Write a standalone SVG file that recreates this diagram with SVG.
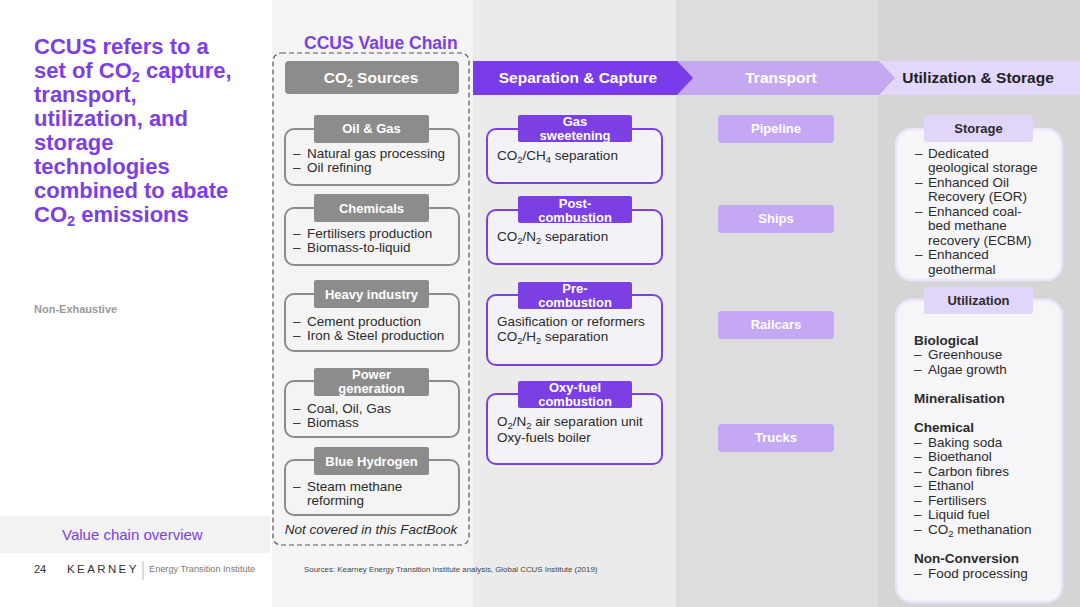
<svg xmlns="http://www.w3.org/2000/svg" width="1080" height="607" viewBox="0 0 1080 607">
<style>
text{font-family:"Liberation Sans",Arial,Helvetica,sans-serif}
.title{font-size:22px;font-weight:bold;fill:#7b3fe4}
.hdr{font-size:15.5px;font-weight:bold;fill:#fff;text-anchor:middle}
.srcbox{fill:#f4f4f4;stroke:#8c8c8c;stroke-width:2}
.srctab{fill:#8c8c8c}
.tabt{font-size:13px;font-weight:bold;fill:#fff;text-anchor:middle}
.body{font-size:13.5px;fill:#2b2b2b}
.sepbox{fill:#f3f2f6;stroke:#7b3fe4;stroke-width:2}
.septab{fill:#7b3fe4}
.pill{fill:#c5a8f3}
.pillt{font-size:13px;font-weight:bold;fill:#fff;text-anchor:middle}
.usbox{fill:#f6f5f8;stroke:#ebe4fb;stroke-width:2.5}
.ustab{fill:#e2d5fa}
.ustabt{font-size:13px;font-weight:bold;fill:#2b2b2b;text-anchor:middle}
.b{font-weight:bold}
.sub{font-size:9.5px;baseline-shift:-2.5px}
.tsub{font-size:14.5px;baseline-shift:-3.5px}
</style>
<!-- backgrounds -->
<rect x="0" y="0" width="1080" height="607" fill="#ffffff"/>
<rect x="272" y="0" width="201" height="607" fill="#f4f4f4"/>
<rect x="473" y="0" width="203" height="607" fill="#ebebeb"/>
<rect x="676" y="0" width="202" height="607" fill="#dddddd"/>
<rect x="878" y="0" width="202" height="607" fill="#d5d5d5"/>
<rect x="0" y="516" width="270" height="37" fill="#f2f2f2"/>

<g id="left-panel">
<text class="title" x="34" y="54">CCUS refers to a</text>
<text class="title" x="34" y="78">set of CO<tspan class="tsub">2</tspan> capture,</text>
<text class="title" x="34" y="102">transport,</text>
<text class="title" x="34" y="126">utilization, and</text>
<text class="title" x="34" y="150">storage</text>
<text class="title" x="34" y="174">technologies</text>
<text class="title" x="34" y="198">combined to abate</text>
<text class="title" x="34" y="222">CO<tspan class="tsub">2</tspan> emissions</text>
<text x="34" y="313" font-size="11" font-weight="bold" fill="#9a9a9a">Non-Exhaustive</text>
<text x="62" y="540" font-size="15" fill="#7b3fe4">Value chain overview</text>
</g>

<g id="footer">
<text x="34" y="573" font-size="11" fill="#333">24</text>
<text x="67" y="573" font-size="11.5" fill="#333" letter-spacing="2.4">KEARNEY</text>
<line x1="143" y1="561" x2="143" y2="580" stroke="#bbbbbb" stroke-width="1"/>
<text x="149" y="572" font-size="9.2" fill="#777">Energy Transition Institute</text>
<text x="304" y="572" font-size="7.9" fill="#444">Sources: Kearney Energy Transition Institute analysis, Global CCUS Institute (2019)</text>
</g>

<g id="value-chain-frame">
<text x="304" y="49" font-size="17.5" font-weight="bold" fill="#7b3fe4">CCUS Value Chain</text>
<rect x="273" y="53" width="196" height="492" rx="8" fill="none" stroke="#555" stroke-width="1.2" stroke-dasharray="5,3"/>
<text x="371" y="534" font-size="13.5" font-style="italic" fill="#2b2b2b" text-anchor="middle">Not covered in this FactBook</text>
</g>

<g id="header-utilization">
<polygon points="878,61 1080,61 1080,95 878,95 894,78" fill="#e3d7fb"/>
<text x="978" y="83" font-size="15.5" font-weight="bold" fill="#222" text-anchor="middle">Utilization &amp; Storage</text>
</g>
<g id="header-transport">
<polygon points="676,61 879,61 895,78 879,95 676,95 692,78" fill="#c4a9f2"/>
<text class="hdr" x="781" y="83">Transport</text>
</g>
<g id="header-separation">
<polygon points="473,61 677,61 693,78 677,95 473,95" fill="#7a3ce8"/>
<text class="hdr" x="578" y="83">Separation &amp; Capture</text>
</g>
<g id="header-sources">
<rect x="285" y="61" width="174" height="33" rx="4" fill="#8c8c8c"/>
<text class="hdr" x="371" y="83">CO<tspan font-size="10.5" baseline-shift="-4">2</tspan>  Sources</text>
</g>

<g id="connectors"></g>

<!-- CO2 sources -->
<g id="src-oil-gas">
<rect class="srcbox" x="285" y="129" width="174" height="56" rx="9"/>
<rect class="srctab" x="314" y="115" width="115" height="28" rx="2"/>
<text class="tabt" x="371.5" y="133">Oil &amp; Gas</text>
<text class="body" x="293" y="158">–</text><text class="body" x="307" y="158">Natural gas processing</text>
<text class="body" x="293" y="172">–</text><text class="body" x="307" y="172">Oil refining</text>
</g>
<g id="src-chemicals">
<rect class="srcbox" x="285" y="208" width="174" height="57" rx="9"/>
<rect class="srctab" x="314" y="194" width="115" height="28" rx="2"/>
<text class="tabt" x="371.5" y="213">Chemicals</text>
<text class="body" x="293" y="238">–</text><text class="body" x="307" y="238">Fertilisers production</text>
<text class="body" x="293" y="252">–</text><text class="body" x="307" y="252">Biomass-to-liquid</text>
</g>
<g id="src-heavy-industry">
<rect class="srcbox" x="285" y="294" width="174" height="57" rx="9"/>
<rect class="srctab" x="314" y="280" width="115" height="28" rx="2"/>
<text class="tabt" x="371.5" y="299">Heavy industry</text>
<text class="body" x="293" y="326">–</text><text class="body" x="307" y="326">Cement production</text>
<text class="body" x="293" y="340">–</text><text class="body" x="307" y="340">Iron &amp; Steel production</text>
</g>
<g id="src-power">
<rect class="srcbox" x="285" y="381" width="174" height="56" rx="9"/>
<rect class="srctab" x="314" y="368" width="115" height="28" rx="2"/>
<text class="tabt" x="371.5" y="379">Power</text>
<text class="tabt" x="371.5" y="393">generation</text>
<text class="body" x="293" y="413">–</text><text class="body" x="307" y="413">Coal, Oil, Gas</text>
<text class="body" x="293" y="427">–</text><text class="body" x="307" y="427">Biomass</text>
</g>
<g id="src-blue-hydrogen">
<rect class="srcbox" x="285" y="460" width="174" height="55" rx="9"/>
<rect class="srctab" x="314" y="447" width="115" height="28" rx="2"/>
<text class="tabt" x="371.5" y="466">Blue Hydrogen</text>
<text class="body" x="293" y="491">–</text><text class="body" x="307" y="491">Steam methane</text>
<text class="body" x="307" y="505">reforming</text>
</g>

<!-- Separation & capture -->
<g id="sep-gas-sweetening">
<rect class="sepbox" x="487" y="129" width="175" height="54" rx="9"/>
<rect class="septab" x="518" y="115" width="114" height="27" rx="2"/>
<text class="tabt" x="575" y="126">Gas</text>
<text class="tabt" x="575" y="140">sweetening</text>
<text class="body" x="497" y="160">CO<tspan class="sub">2</tspan>/CH<tspan class="sub">4</tspan> separation</text>
</g>
<g id="sep-post-combustion">
<rect class="sepbox" x="487" y="210" width="175" height="54" rx="9"/>
<rect class="septab" x="518" y="196" width="114" height="27" rx="2"/>
<text class="tabt" x="575" y="208">Post-</text>
<text class="tabt" x="575" y="222">combustion</text>
<text class="body" x="497" y="241">CO<tspan class="sub">2</tspan>/N<tspan class="sub">2</tspan> separation</text>
</g>
<g id="sep-pre-combustion">
<rect class="sepbox" x="487" y="295" width="175" height="70" rx="9"/>
<rect class="septab" x="518" y="282" width="114" height="27" rx="2"/>
<text class="tabt" x="575" y="293">Pre-</text>
<text class="tabt" x="575" y="307">combustion</text>
<text class="body" x="497" y="326">Gasification or reformers</text>
<text class="body" x="497" y="341">CO<tspan class="sub">2</tspan>/H<tspan class="sub">2</tspan> separation</text>
</g>
<g id="sep-oxy-fuel">
<rect class="sepbox" x="487" y="394" width="175" height="70" rx="9"/>
<rect class="septab" x="518" y="381" width="114" height="27" rx="2"/>
<text class="tabt" x="575" y="392">Oxy-fuel</text>
<text class="tabt" x="575" y="406">combustion</text>
<text class="body" x="497" y="426">O<tspan class="sub">2</tspan>/N<tspan class="sub">2</tspan> air separation unit</text>
<text class="body" x="497" y="442">Oxy-fuels boiler</text>
</g>

<!-- Transport -->
<g id="tr-pipeline">
<rect class="pill" x="718" y="115" width="116" height="28" rx="4"/>
<text class="pillt" x="776" y="133">Pipeline</text>
</g>
<g id="tr-ships">
<rect class="pill" x="718" y="205" width="116" height="28" rx="4"/>
<text class="pillt" x="776" y="223">Ships</text>
</g>
<g id="tr-railcars">
<rect class="pill" x="718" y="311" width="116" height="28" rx="4"/>
<text class="pillt" x="776" y="329">Railcars</text>
</g>
<g id="tr-trucks">
<rect class="pill" x="718" y="424" width="116" height="28" rx="4"/>
<text class="pillt" x="776" y="442">Trucks</text>
</g>

<!-- Utilization & Storage -->
<g id="us-storage">
<rect class="usbox" x="896" y="129" width="166" height="151" rx="16"/>
<rect class="ustab" x="924" y="115" width="109" height="27" rx="2"/>
<text class="ustabt" x="978.5" y="133">Storage</text>
<text class="body" x="915" y="158">–</text><text class="body" x="928" y="158">Dedicated</text>
<text class="body" x="928" y="172">geological storage</text>
<text class="body" x="915" y="187">–</text><text class="body" x="928" y="187">Enhanced Oil</text>
<text class="body" x="928" y="201">Recovery (EOR)</text>
<text class="body" x="915" y="216">–</text><text class="body" x="928" y="216">Enhanced coal-</text>
<text class="body" x="928" y="230">bed methane</text>
<text class="body" x="928" y="245">recovery (ECBM)</text>
<text class="body" x="915" y="259">–</text><text class="body" x="928" y="259">Enhanced</text>
<text class="body" x="928" y="274">geothermal</text>
</g>
<g id="us-utilization">
<rect class="usbox" x="896" y="300" width="166" height="302" rx="16"/>
<rect class="ustab" x="924" y="287" width="109" height="27" rx="2"/>
<text class="ustabt" x="978.5" y="305">Utilization</text>
<text class="body b" x="914" y="345">Biological</text>
<text class="body" x="914" y="359">–</text><text class="body" x="928" y="359">Greenhouse</text>
<text class="body" x="914" y="374">–</text><text class="body" x="928" y="374">Algae growth</text>
<text class="body b" x="914" y="403">Mineralisation</text>
<text class="body b" x="914" y="432">Chemical</text>
<text class="body" x="914" y="447">–</text><text class="body" x="928" y="447">Baking soda</text>
<text class="body" x="914" y="461">–</text><text class="body" x="928" y="461">Bioethanol</text>
<text class="body" x="914" y="476">–</text><text class="body" x="928" y="476">Carbon fibres</text>
<text class="body" x="914" y="490">–</text><text class="body" x="928" y="490">Ethanol</text>
<text class="body" x="914" y="505">–</text><text class="body" x="928" y="505">Fertilisers</text>
<text class="body" x="914" y="519">–</text><text class="body" x="928" y="519">Liquid fuel</text>
<text class="body" x="914" y="534">–</text><text class="body" x="928" y="534">CO<tspan class="sub">2</tspan> methanation</text>
<text class="body b" x="914" y="563">Non-Conversion</text>
<text class="body" x="914" y="578">–</text><text class="body" x="928" y="578">Food processing</text>
</g>
</svg>
